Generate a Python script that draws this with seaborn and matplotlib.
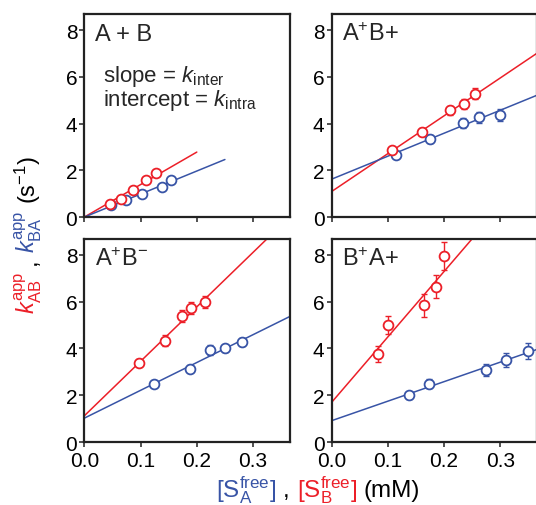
import numpy as np
import seaborn as sns
import matplotlib.pyplot as plt

# ============================================================
# DATA
# ============================================================

panel_titles = ["A + B", r"A$^{+}$B+", r"A$^{+}$B$^{-}$", r"B$^{+}$A+"]

# red series: k_AB vs [S_B free]
red_x = [
    [0.045, 0.066, 0.086, 0.110, 0.128],
    [0.108, 0.160, 0.210, 0.236, 0.255],
    [0.097, 0.144, 0.173, 0.190, 0.214],
    [0.082, 0.100, 0.165, 0.185, 0.200],
]
red_y = [
    [0.57, 0.79, 1.17, 1.57, 1.90],
    [2.87, 3.65, 4.57, 4.83, 5.28],
    [3.40, 4.34, 5.38, 5.72, 5.98],
    [3.77, 5.00, 5.84, 6.65, 7.96],
]
red_err = [
    [0.0, 0.0, 0.0, 0.0, 0.0],
    [0.12, 0.15, 0.20, 0.22, 0.25],
    [0.15, 0.25, 0.25, 0.25, 0.25],
    [0.35, 0.40, 0.50, 0.50, 0.60],
]

# blue series: k_BA vs [S_A free]
blue_x = [
    [0.048, 0.074, 0.102, 0.139, 0.154],
    [0.114, 0.175, 0.234, 0.263, 0.300],
    [0.124, 0.188, 0.224, 0.251, 0.281],
    [0.137, 0.173, 0.275, 0.310, 0.350],
]
blue_y = [
    [0.50, 0.73, 1.00, 1.27, 1.59],
    [2.67, 3.34, 4.02, 4.26, 4.37],
    [2.49, 3.13, 3.93, 4.01, 4.26],
    [1.99, 2.50, 3.09, 3.52, 3.90],
]
blue_err = [
    [0.0, 0.0, 0.0, 0.0, 0.0],
    [0.15, 0.18, 0.22, 0.25, 0.25],
    [0.10, 0.15, 0.20, 0.15, 0.17],
    [0.15, 0.20, 0.25, 0.30, 0.35],
]

# linear fits: slope (k_inter), intercept (k_intra), x end of the line
red_slope = [13.9, 16.2, 23.3, 28.0]
red_icept = [0.0, 1.09, 1.12, 1.69]
red_xend = [0.20, 0.365, 0.365, 0.365]
blue_slope = [9.85, 9.83, 11.9, 8.35]
blue_icept = [0.0, 1.62, 1.02, 0.91]
blue_xend = [0.25, 0.365, 0.365, 0.365]

x_ticks = [0.0, 0.1, 0.2, 0.3]
x_ticklabels = ["0.0", "0.1", "0.2", "0.3"]
y_ticks = [0, 2, 4, 6, 8]

RED = "#ec1f28"
BLUE = "#3854a6"
DARK = "#222222"

# ============================================================
# STYLE
# ============================================================

sns.set_style("ticks")
plt.rcParams['font.family'] = ['Liberation Sans', 'DejaVu Sans']
plt.rcParams['mathtext.fontset'] = 'custom'
plt.rcParams['mathtext.rm'] = 'Liberation Sans'
plt.rcParams['mathtext.it'] = 'Liberation Sans:italic'
plt.rcParams['mathtext.bf'] = 'Liberation Sans:bold'

fig = plt.figure(figsize=(5.36, 5.06), dpi=100)

lefts = [0.1573, 0.6185]
bottoms = [0.569, 0.1245]
W, H = 0.383, 0.402

axes = []
for i in range(4):
    r, c = divmod(i, 2)
    ax = fig.add_axes([lefts[c], bottoms[r], W, H])
    axes.append(ax)

    # fit lines
    xr = [0, red_xend[i]]
    sns.lineplot(x=xr, y=[red_icept[i] + red_slope[i] * v for v in xr],
                 color=RED, lw=1.1, ax=ax)
    xb = [0, blue_xend[i]]
    sns.lineplot(x=xb, y=[blue_icept[i] + blue_slope[i] * v for v in xb],
                 color=BLUE, lw=1.1, ax=ax)

    # data points
    for xs, ys, es, col in [(blue_x[i], blue_y[i], blue_err[i], BLUE),
                            (red_x[i], red_y[i], red_err[i], RED)]:
        ax.errorbar(xs, ys, yerr=es, fmt='none', ecolor=col, elinewidth=1.0,
                    capsize=2.5, capthick=1.0, zorder=3)
        sns.scatterplot(x=xs, y=ys, ax=ax, marker='o', s=50,
                        facecolor='white', edgecolor=col, linewidth=1.3,
                        zorder=4)

    ax.set_xlim(0, 0.365)
    ax.set_ylim(0, 8.7)
    ax.set_xticks(x_ticks)
    ax.set_yticks(y_ticks)
    if r == 1:
        ax.set_xticklabels(x_ticklabels)
    else:
        ax.set_xticklabels([])
    for sp in ax.spines.values():
        sp.set_linewidth(1.6)
        sp.set_color(DARK)
    ax.tick_params(direction='out', length=3.5, width=1.1, color=DARK,
                   labelsize=15, labelcolor='black', pad=1.5)
    ax.tick_params(axis='x', pad=3)

    ax.text(0.05, 0.872, panel_titles[i], transform=ax.transAxes,
            fontsize=17, ha='left', va='baseline')

axes[0].text(0.09, 0.668, r"slope = $k_{\rm inter}$",
             transform=axes[0].transAxes, fontsize=16, va='baseline')
axes[0].text(0.09, 0.552, r"intercept = $k_{\rm intra}$",
             transform=axes[0].transAxes, fontsize=16, va='baseline')

# ============================================================
# MULTI-COLOURED AXIS LABELS
# ============================================================

renderer = fig.canvas.get_renderer()


def colored_label(pieces, anchor, center, vertical, fontsize, gap=4):
    texts, sizes = [], []
    for s, col in pieces:
        t = fig.text(0, 0, s, color=col, fontsize=fontsize,
                     rotation=90 if vertical else 0, rotation_mode='anchor',
                     ha='left', va='baseline')
        bb = t.get_window_extent(renderer)
        texts.append(t)
        sizes.append(bb.height if vertical else bb.width)
    total = sum(sizes) + gap * (len(sizes) - 1)
    figw, figh = fig.bbox.width, fig.bbox.height
    pos = center - total / 2
    for t, sz in zip(texts, sizes):
        if vertical:
            t.set_position((anchor / figw, pos / figh))
        else:
            t.set_position((pos / figw, anchor / figh))
        pos += sz + gap


colored_label([(r"$k_{\rm AB}^{\rm app}$", RED), (",", 'black'),
               (r"$k_{\rm BA}^{\rm app}$", BLUE), (r"(s$^{-1}$)", 'black')],
              anchor=36, center=506 - 235, vertical=True,
              fontsize=17, gap=6)

colored_label([(r"[S$_{\rm A}^{\rm free}$]", BLUE), (",", 'black'),
               (r"[S$_{\rm B}^{\rm free}$]", RED), ("(mM)", 'black')],
              anchor=9, center=318, vertical=False, fontsize=17.5, gap=7)

fig.savefig("out.png", dpi=100)
